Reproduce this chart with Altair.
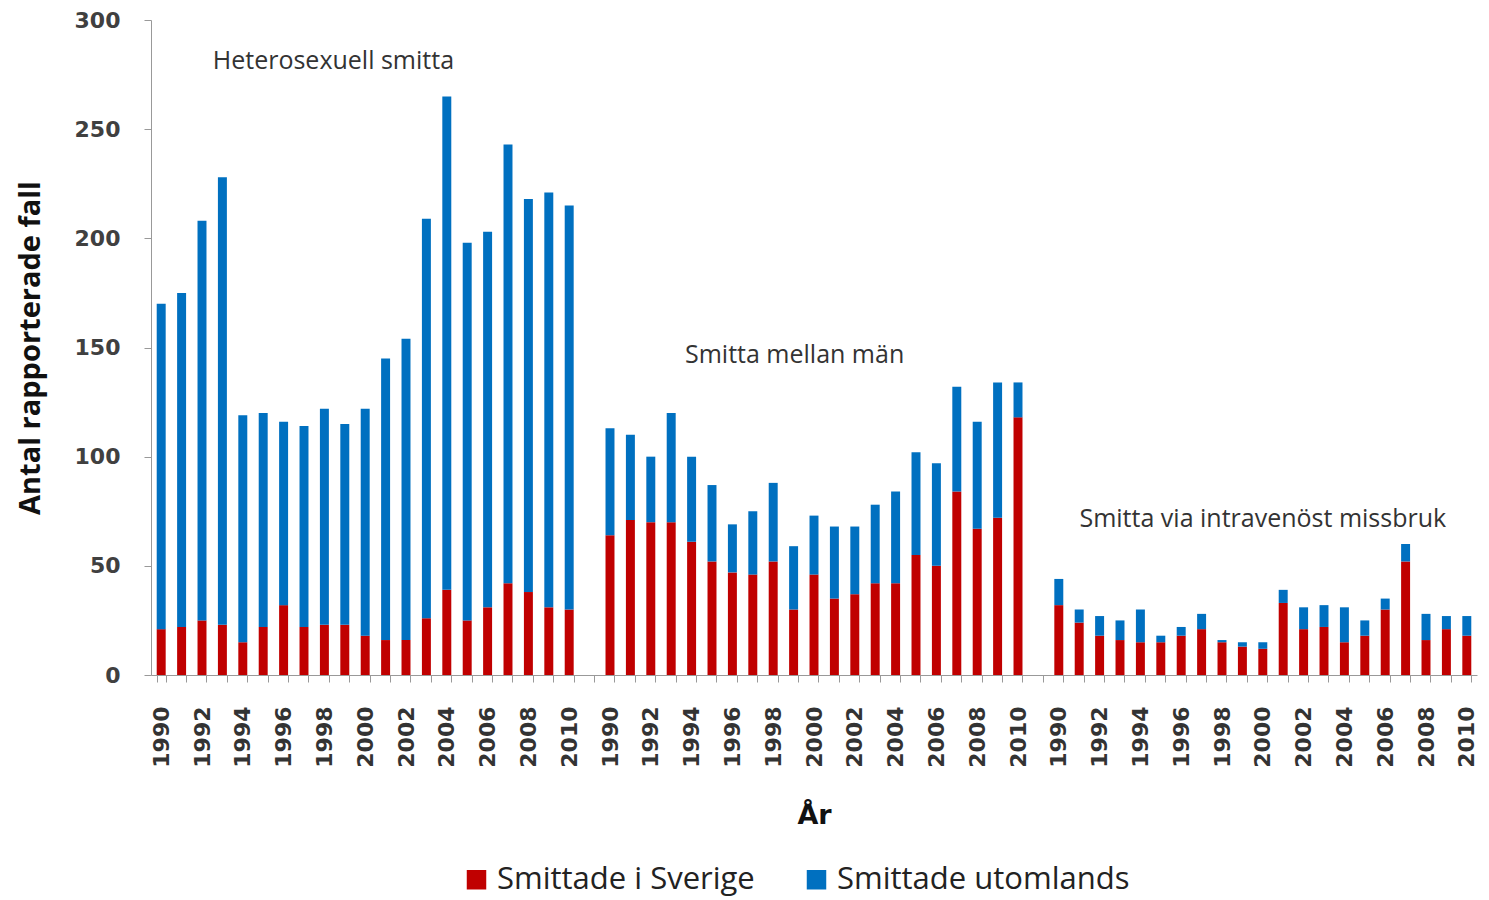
import altair as alt
import pandas as pd

years = list(range(1990, 2011))
groups = ["Heterosexuell smitta", "Smitta mellan män", "Smitta via intravenöst missbruk"]
series = ["Smittade i Sverige", "Smittade utomlands"]
colors = ["#C00000", "#0070C0"]

sverige = [
    [21, 22, 25, 23, 15, 22, 32, 22, 23, 23, 18, 16, 16, 26, 39, 25, 31, 42, 38, 31, 30],
    [64, 71, 70, 70, 61, 52, 47, 46, 52, 30, 46, 35, 37, 42, 42, 55, 50, 84, 67, 72, 118],
    [32, 24, 18, 16, 15, 15, 18, 21, 15, 13, 12, 33, 21, 22, 15, 18, 30, 52, 16, 21, 18],
]
utomlands = [
    [149, 153, 183, 205, 104, 98, 84, 92, 99, 92, 104, 129, 138, 183, 226, 173, 172, 201, 180, 190, 185],
    [49, 39, 30, 50, 39, 35, 22, 29, 36, 29, 27, 33, 31, 36, 42, 47, 47, 48, 49, 62, 16],
    [12, 6, 9, 9, 15, 3, 4, 7, 1, 2, 3, 6, 10, 10, 16, 7, 5, 8, 12, 6, 9],
]

# annotation labels (category slot, value)
ann_pos = [8, 31, 54]
ann_val = [281, 146.6, 71.5]
ann_dx = [9, 1, 0]

rows = []
n_years = len(years)
slot = n_years + 1
for g in range(len(groups)):
    for i, yr in enumerate(years):
        pos = g * slot + i
        rows.append({"pos": pos, "year": yr, "group": groups[g], "serie": series[0], "value": sverige[g][i], "ord": 0})
        rows.append({"pos": pos, "year": yr, "group": groups[g], "serie": series[1], "value": utomlands[g][i], "ord": 1})
df = pd.DataFrame(rows)
n_slots = len(groups) * slot - 1

label_expr = f"datum.value % 2 == 0 ? '' + ({years[0]} + datum.value % {slot}) : ''"

xscale = alt.Scale(domain=list(range(n_slots)), paddingInner=0.56, paddingOuter=0.28)

bars = alt.Chart(df).mark_bar().encode(
    x=alt.X("pos:O", scale=xscale,
            axis=alt.Axis(title="År", labelExpr=label_expr, labelAngle=270, labelAlign="right",
                          labelBaseline="middle", labelOverlap=False, tickBand="extent",
                          labelPadding=24, tickSize=7, titleY=140, titleBaseline="middle",
                          labelFont="DejaVu Sans", labelFontSize=22, labelFontWeight="bold",
                          labelColor="#333333", titleFont="DejaVu Sans", titleFontSize=27,
                          titleFontWeight="bold", titleColor="#111111",
                          domainColor="#999999", tickColor="#999999")),
    y=alt.Y("value:Q", stack="zero", scale=alt.Scale(domain=[0, 300], nice=False),
            axis=alt.Axis(title="Antal rapporterade fall", values=[0, 50, 100, 150, 200, 250, 300],
                          grid=False, tickSize=7, labelPadding=24, labelFont="DejaVu Sans",
                          labelFontSize=22, labelFontWeight="bold", labelColor="#404040",
                          titleFont="Open Sans", titleFontSize=29, titleFontWeight="bold",
                          titleColor="#111111", titleAngle=270, titleX=-121, titleY=327.5,
                          titleAlign="center", titleBaseline="middle",
                          domainColor="#999999", tickColor="#999999")),
    color=alt.Color("serie:N", scale=alt.Scale(domain=series, range=colors),
                    legend=alt.Legend(title=None, orient="none", legendX=310, legendY=844,
                                      direction="horizontal", symbolType="square",
                                      symbolSize=380, symbolStrokeWidth=0,
                                      labelFont="Open Sans", labelFontSize=31,
                                      labelColor="#222222", columnPadding=46, labelOffset=5,
                                      labelLimit=450)),
    order=alt.Order("ord:Q", sort="ascending"),
)

layers = [bars]
for k in range(len(groups)):
    adf = pd.DataFrame({"pos": [ann_pos[k]], "value": [ann_val[k]], "label": [groups[k]]})
    layers.append(
        alt.Chart(adf).mark_text(font="Open Sans", fontSize=25, color="#333333",
                                 align="center", baseline="middle", dx=ann_dx[k]).encode(
            x=alt.X("pos:O", scale=xscale),
            y=alt.Y("value:Q"),
            text="label:N",
        )
    )

chart = alt.layer(*layers).properties(
    width=1326, height=655,
    autosize=alt.AutoSizeParams(type="none"),
    padding={"left": 143, "top": 12, "right": 4, "bottom": 225},
).configure_view(stroke=None)

chart.save("out.html", embed_options={"renderer": "svg", "actions": False})
